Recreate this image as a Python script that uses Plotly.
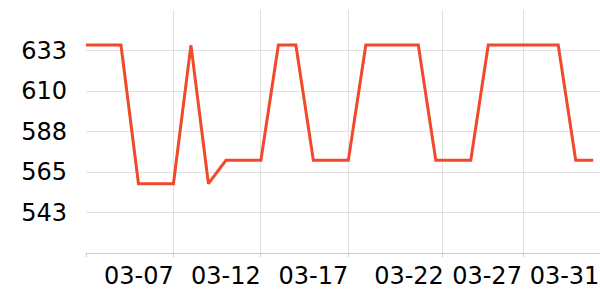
import plotly.graph_objects as go
import pandas as pd

# ---- data ----
dates = pd.date_range("2025-03-02", "2025-03-31", freq="D")
values = [636, 636, 636, 559, 559, 559, 636, 559, 572, 572,
          572, 636, 636, 572, 572, 572, 636, 636, 636, 636,
          572, 572, 572, 636, 636, 636, 636, 636, 572, 572]

# grid / tick positions on the time axis
grid_dates = ["2025-03-02", "2025-03-07", "2025-03-12", "2025-03-17",
              "2025-03-22 09:00", "2025-03-27"]
label_dates = ["2025-03-05 00:30", "2025-03-10 00:00", "2025-03-15 00:00",
               "2025-03-20 11:15", "2025-03-24 22:20", "2025-03-29 08:40"]
label_text = ["03-07", "03-12", "03-17", "03-22", "03-27", "03-31"]

y_tickvals = [543, 565.5, 588, 610.5, 633]
y_ticktext = ["543", "565", "588", "610", "633"]
y_range = [520.5, 655.5]
x_range = ["2025-03-02", "2025-03-31 09:20"]

LINE = "#F1492C"
GRID = "#E0E0E0"
AXIS = "#CCCCCC"
FONT = dict(family="DejaVu Sans", size=24, color="#000000")

fig = go.Figure()
fig.add_trace(go.Scatter(x=dates, y=values, mode="lines",
                         line=dict(color=LINE, width=3), hoverinfo="skip",
                         xaxis="x", yaxis="y"))
# invisible trace to activate second x axis
fig.add_trace(go.Scatter(x=[dates[0]], y=[values[0]], mode="markers",
                         marker=dict(opacity=0), hoverinfo="skip",
                         xaxis="x2", yaxis="y"))

fig.update_layout(
    width=600, height=300,
    margin=dict(l=86, r=0, t=10, b=47),
    paper_bgcolor="white", plot_bgcolor="white",
    showlegend=False,
    font=FONT,
    xaxis=dict(type="date", range=x_range, tickmode="array", tickvals=grid_dates,
               showticklabels=False, showgrid=True, gridcolor=GRID, gridwidth=1,
               ticks="outside", ticklen=3, tickcolor=AXIS,
               showline=True, linecolor=AXIS, linewidth=1, zeroline=False),
    xaxis2=dict(type="date", range=x_range, overlaying="x", anchor="y", side="bottom",
                tickmode="array", tickvals=label_dates, ticktext=label_text,
                showgrid=False, ticks="", showline=False, zeroline=False,
                ticklabelstandoff=6, tickfont=FONT),
    yaxis=dict(range=y_range, tickmode="array", tickvals=y_tickvals, ticktext=y_ticktext,
               showgrid=True, gridcolor=GRID, gridwidth=1, zeroline=False,
               showline=False, ticks="", ticklabelstandoff=18, tickfont=FONT),
)

fig.write_html("out.html")
